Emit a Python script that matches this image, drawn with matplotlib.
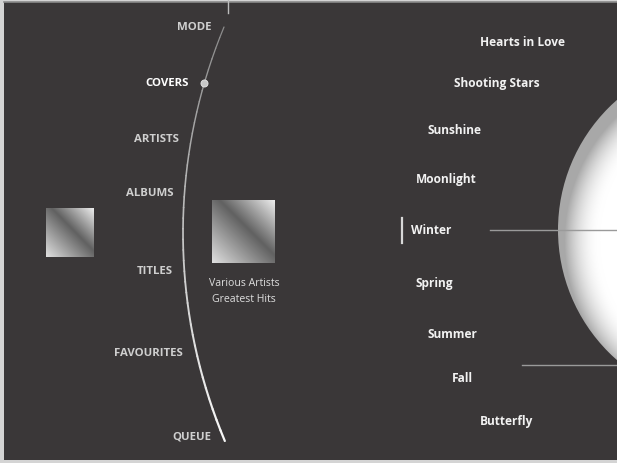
import numpy as np
import matplotlib.pyplot as plt
from matplotlib.patches import Circle, Rectangle
from matplotlib.collections import LineCollection

W, H = 617, 463

# menu on the left (label, right edge x, y)
menu_labels = ['MODE', 'COVERS', 'ARTISTS', 'ALBUMS', 'TITLES', 'FAVOURITES', 'QUEUE']
menu_x = [211, 189, 179, 173, 173, 183, 211]
menu_y = [27, 83, 138, 193, 271, 353, 436]
menu_active = 'COVERS'

# track list on the right (label, centre x, y)
tracks = ['Hearts in Love', 'Shooting Stars', 'Sunshine', 'Moonlight', 'Winter',
          'Spring', 'Summer', 'Fall', 'Butterfly']
track_x = [523, 497, 455, 446, 431, 434, 452, 462, 507]
track_y = [41, 83, 129, 179, 230, 282, 333, 377, 420]
track_active = 'Winter'

album_lines = ['Various Artists', 'Greatest Hits']

bg = '#3a3738'
plt.rcParams['font.family'] = ['Open Sans', 'DejaVu Sans']

fig = plt.figure(figsize=(W / 100, H / 100), dpi=100)
fig.patch.set_facecolor('#d4d4d4')
ax = fig.add_axes([0, 0, 1, 1])
ax.set_xlim(0, W)
ax.set_ylim(H, 0)
ax.axis('off')

# dark panel + frame lines
ax.add_patch(Rectangle((4, 2), W - 4, 458, facecolor=bg, edgecolor='none'))
ax.plot([4, W], [1.5, 1.5], color='#8a8a8a', lw=1.2)
ax.plot([228, 228], [0, 13], color='#bdbdbd', lw=1)

# curved menu rail (circle arc), brighter towards the bottom
cx, cy, r = 721, 233, 538
ys = np.linspace(27, 441, 40)
xs = cx - np.sqrt(r ** 2 - (ys - cy) ** 2)
pts = np.column_stack([xs, ys]).reshape(-1, 1, 2)
segs = np.concatenate([pts[:-1], pts[1:]], axis=1)
t = np.linspace(0, 1, len(segs))
cols = [(0.55 + 0.42 * v, 0.55 + 0.42 * v, 0.55 + 0.42 * v) for v in t]
ax.add_collection(LineCollection(segs, colors=cols, linewidths=0.9 + 0.7 * t,
                                 capstyle='round'))

# knob on the rail
ax.scatter([204], [83], s=26, color='#c8c8c8', edgecolors='#e8e8e8', linewidths=0.6, zorder=5)

for lab, x, y in zip(menu_labels, menu_x, menu_y):
    c = '#ffffff' if lab == menu_active else '#cfcfcf'
    ax.text(x, y + 1, lab, ha='right', va='center', color=c, fontsize=8.2, fontweight='bold')

# cover thumbnails with diagonal gradient
g = np.linspace(0, 1, 120)
gx, gy = np.meshgrid(g, g)
u = gx - gy
val = np.where(u < 0.12, 0.88 - (u + 1) / 1.12 * 0.5, 0.38 + (u - 0.12) / 0.88 * 0.55)
img = np.dstack([val, val, val])
ax.imshow(img, extent=(46, 94, 257, 208), interpolation='bilinear', zorder=2)
ax.imshow(img, extent=(212, 275, 263, 200), interpolation='bilinear', zorder=2)

for line, y in zip(album_lines, [282, 299]):
    ax.text(244, y + 1, line, ha='center', va='center', color='#dedede', fontsize=7.6)

# big disc on the right
dcx, dcy, dr = 731, 230, 173
yy, xx = np.mgrid[40:420, 540:W + 1]
d = np.hypot(xx - (dcx + 6), yy - (dcy + 10))
shade = 1 - 0.34 * np.clip((d - (dr - 36)) / 36, 0, 1) ** 2
disc = ax.imshow(np.dstack([shade, shade, shade]), extent=(540, W + 1, 420, 40),
                 interpolation='bilinear', zorder=2)
clip = Circle((dcx, dcy), dr, transform=ax.transData)
disc.set_clip_path(clip)
ax.set_xlim(0, W)
ax.set_ylim(H, 0)

ax.plot([490, W], [230, 230], color='#9a9a9a', lw=1, zorder=3)
ax.plot([522, W], [365, 365], color='#9a9a9a', lw=1, zorder=3)

# active marker
ax.plot([402, 402], [218, 243], color='#d8d8d8', lw=1.6)

for lab, x, y in zip(tracks, track_x, track_y):
    ax.text(x, y + 1, lab, ha='center', va='center', color='#f2f2f2', fontsize=8.6, fontweight='bold')

fig.savefig('out.png', dpi=100, facecolor=fig.get_facecolor())
